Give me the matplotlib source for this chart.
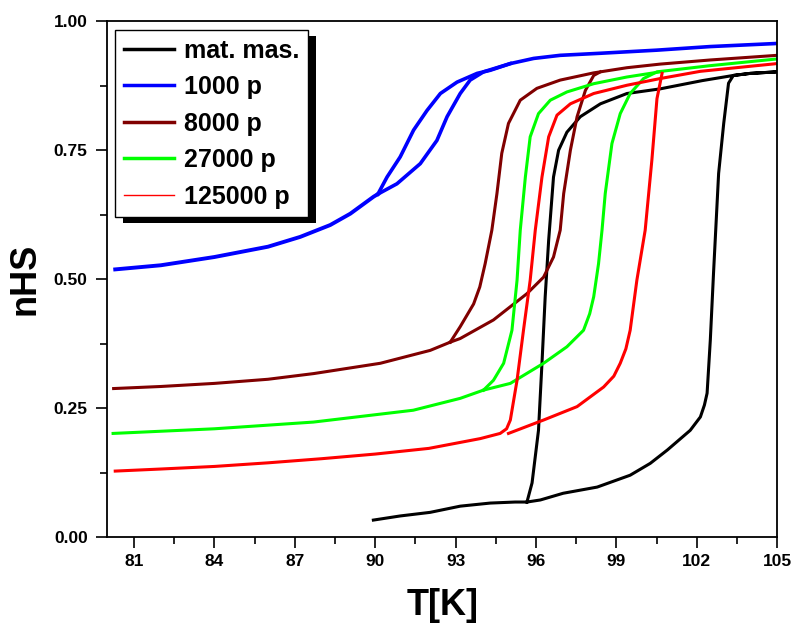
import matplotlib
matplotlib.use('Agg')
import matplotlib.pyplot as plt
from matplotlib.patches import Rectangle
from matplotlib.ticker import MultipleLocator, FormatStrFormatter
from matplotlib.transforms import IdentityTransform

# Spin-crossover hysteresis loops, n_HS vs T

# mat. mas. : heating branch, then cooling branch back to the junction
mat_T = [89.93, 90.93, 92.05, 93.17, 94.29, 95.22, 95.66, 96.16, 97.01, 98.28, 99.51, 100.26,
         100.90, 101.75, 102.13, 102.28, 102.38, 102.50, 102.62, 102.81, 103.0, 103.18, 103.36,
         103.99, 104.99,
         103.99, 103.36, 102.2, 100.63, 99.39, 98.40, 97.65, 97.15, 96.84, 96.65, 96.47, 96.34,
         96.22, 96.09, 95.85, 95.66]
mat_n = [0.033, 0.041, 0.048, 0.060, 0.066, 0.068, 0.068, 0.072, 0.085, 0.097, 0.120, 0.143,
         0.169, 0.207, 0.233, 0.256, 0.279, 0.382, 0.512, 0.705, 0.802, 0.880, 0.895,
         0.899, 0.902,
         0.899, 0.895, 0.885, 0.869, 0.860, 0.840, 0.815, 0.785, 0.750, 0.698, 0.576, 0.466,
         0.337, 0.207, 0.105, 0.068]

# 1000 p : common low branch, cooling (upper-left) branch, heating branch
p1000_low_T = [80.3, 82.0, 84.0, 86.0, 87.2, 88.32, 89.07, 89.94, 90.1]
p1000_low_n = [0.519, 0.527, 0.543, 0.563, 0.582, 0.605, 0.627, 0.660, 0.665]
p1000_cool_T = [90.1, 90.44, 90.93, 91.43, 91.93, 92.43, 93.05, 93.80, 94.29, 95.04]
p1000_cool_n = [0.665, 0.698, 0.737, 0.789, 0.827, 0.860, 0.882, 0.899, 0.905, 0.918]
p1000_heat_T = [90.1, 90.81, 91.68, 92.30, 92.68, 93.17, 93.54, 94.04, 95.04, 95.91, 96.90,
                98.40, 100.5, 102.5, 104.99]
p1000_heat_n = [0.665, 0.685, 0.724, 0.769, 0.815, 0.860, 0.886, 0.902, 0.918, 0.928, 0.934,
                0.938, 0.944, 0.951, 0.957]

# 8000 p : low branch, cooling branch, heating branch
p8000_low_T = [80.24, 82.0, 84.0, 86.0, 87.70, 90.19, 92.05, 92.80]
p8000_low_n = [0.288, 0.292, 0.298, 0.306, 0.317, 0.337, 0.362, 0.378]
p8000_cool_T = [92.80, 93.17, 93.67, 93.90, 94.10, 94.35, 94.54, 94.72, 94.97, 95.41, 96.03,
                96.90, 98.15, 99.39, 100.63, 102.5, 104.99]
p8000_cool_n = [0.378, 0.408, 0.452, 0.485, 0.530, 0.595, 0.666, 0.744, 0.802, 0.847, 0.870,
                0.886, 0.900, 0.910, 0.917, 0.925, 0.934]
p8000_heat_T = [92.80, 93.17, 94.41, 95.66, 96.28, 96.65, 96.90, 97.03, 97.28, 97.53, 97.84,
                98.15, 98.40]
p8000_heat_n = [0.378, 0.385, 0.421, 0.472, 0.504, 0.543, 0.595, 0.666, 0.750, 0.815, 0.866,
                0.895, 0.902]

# 27000 p : low branch, heating branch, cooling branch
p27000_low_T = [80.22, 84.0, 87.69, 91.42, 93.17, 94.04]
p27000_low_n = [0.201, 0.210, 0.223, 0.246, 0.269, 0.285]
p27000_heat_T = [94.04, 95.04, 96.28, 97.15, 97.77, 98.0, 98.15, 98.33, 98.46, 98.58, 98.83,
                 99.14, 99.51, 100.01, 100.51, 102.5, 104.99]
p27000_heat_n = [0.285, 0.298, 0.337, 0.369, 0.401, 0.433, 0.466, 0.530, 0.595, 0.666, 0.763,
                 0.821, 0.860, 0.889, 0.902, 0.914, 0.927]
p27000_cool_T = [100.63, 99.39, 98.15, 97.15, 96.53, 96.09, 95.78, 95.60, 95.41, 95.29, 95.10,
                 94.79, 94.41, 94.04]
p27000_cool_n = [0.902, 0.892, 0.879, 0.863, 0.847, 0.821, 0.776, 0.698, 0.595, 0.498, 0.401,
                 0.337, 0.304, 0.285]

# 125000 p : cooling curve (low tail up to the top) and a separate heating branch
p125000_cool_T = [80.3, 82.0, 84.0, 86.0, 88.0, 90.0, 92.0, 93.92, 94.66, 94.90, 95.04, 95.29,
                  95.53, 95.78, 95.97, 96.22, 96.47, 96.78, 97.28, 98.15, 99.39, 100.63, 102.13,
                  104.99]
p125000_cool_n = [0.128, 0.132, 0.137, 0.144, 0.152, 0.161, 0.172, 0.191, 0.201, 0.210, 0.227,
                  0.304, 0.401, 0.498, 0.595, 0.698, 0.776, 0.818, 0.840, 0.860, 0.876, 0.889,
                  0.903, 0.918]
p125000_heat_T = [94.97, 96.28, 97.53, 98.52, 98.90, 99.14, 99.35, 99.51, 99.76, 100.07, 100.32,
                  100.51, 100.70]
p125000_heat_n = [0.201, 0.227, 0.253, 0.291, 0.312, 0.337, 0.365, 0.401, 0.498, 0.595, 0.731,
                  0.850, 0.899]

labels = ['mat. mas.', '1000 p', '8000 p', '27000 p', '125000 p']
colors = ['#000000', '#0000ff', '#800000', '#00ff00', '#ff0000']

plt.rcParams['font.family'] = ['Liberation Sans', 'DejaVu Sans']
plt.rcParams['font.weight'] = 'bold'

fig = plt.figure(figsize=(7.94, 6.26), dpi=100)
ax = fig.add_axes([0.135, 0.142, 0.844, 0.824])

lw = 2.2
ax.plot(mat_T, mat_n, color=colors[0], lw=lw)
ax.plot(p1000_low_T, p1000_low_n, color=colors[1], lw=2.8)
ax.plot(p1000_cool_T, p1000_cool_n, color=colors[1], lw=2.6)
ax.plot(p1000_heat_T, p1000_heat_n, color=colors[1], lw=2.6)
ax.plot(p8000_low_T, p8000_low_n, color=colors[2], lw=lw)
ax.plot(p8000_cool_T, p8000_cool_n, color=colors[2], lw=lw)
ax.plot(p8000_heat_T, p8000_heat_n, color=colors[2], lw=lw)
ax.plot(p27000_low_T, p27000_low_n, color=colors[3], lw=lw)
ax.plot(p27000_heat_T, p27000_heat_n, color=colors[3], lw=lw)
ax.plot(p27000_cool_T, p27000_cool_n, color=colors[3], lw=lw)
ax.plot(p125000_cool_T, p125000_cool_n, color=colors[4], lw=lw)
ax.plot(p125000_heat_T, p125000_heat_n, color=colors[4], lw=lw)

# legend handles
handles = []
for c, lab, w in zip(colors, labels, [2.5, 2.5, 2.5, 2.5, 1.0]):
    h, = ax.plot([], [], color=c, lw=w, label=lab)
    handles.append(h)

ax.set_xlim(80, 105)
ax.set_ylim(0, 1.0)
ax.set_xticks([81, 84, 87, 90, 93, 96, 99, 102, 105])
ax.xaxis.set_minor_locator(MultipleLocator(1.5))
ax.yaxis.set_major_locator(MultipleLocator(0.25))
ax.yaxis.set_minor_locator(MultipleLocator(0.125))
ax.yaxis.set_major_formatter(FormatStrFormatter('%.2f'))

ax.tick_params(which='major', direction='out', length=8, width=1.2, labelsize=12.5)
ax.tick_params(which='minor', direction='out', length=5, width=1.2)
ax.tick_params(axis='y', which='major', pad=6)
ax.tick_params(axis='x', which='major', pad=4)
for s in ax.spines.values():
    s.set_linewidth(1.3)

ax.set_xlabel('T[K]', fontsize=26, fontweight='bold', labelpad=14)
ax.set_ylabel('nHS', fontsize=26, fontweight='bold', labelpad=8)

leg = ax.legend(handles=handles, loc='upper left', bbox_to_anchor=(0.004, 0.993),
                fontsize=18, frameon=True, fancybox=False, edgecolor='black',
                framealpha=1, handlelength=2.0, handletextpad=0.4, labelspacing=0.5,
                borderpad=0.35, borderaxespad=0.2)
leg.get_frame().set_linewidth(1.0)
leg.set_zorder(6)

# black drop shadow behind the legend box
fig.canvas.draw()
bb = leg.get_frame().get_window_extent()
shadow = Rectangle((bb.x0 + 8, bb.y0 - 6), bb.width, bb.height, transform=IdentityTransform(),
                   facecolor='black', edgecolor='none', zorder=5.5, clip_on=False)
ax.add_artist(shadow)

fig.savefig('out.png', dpi=100)
